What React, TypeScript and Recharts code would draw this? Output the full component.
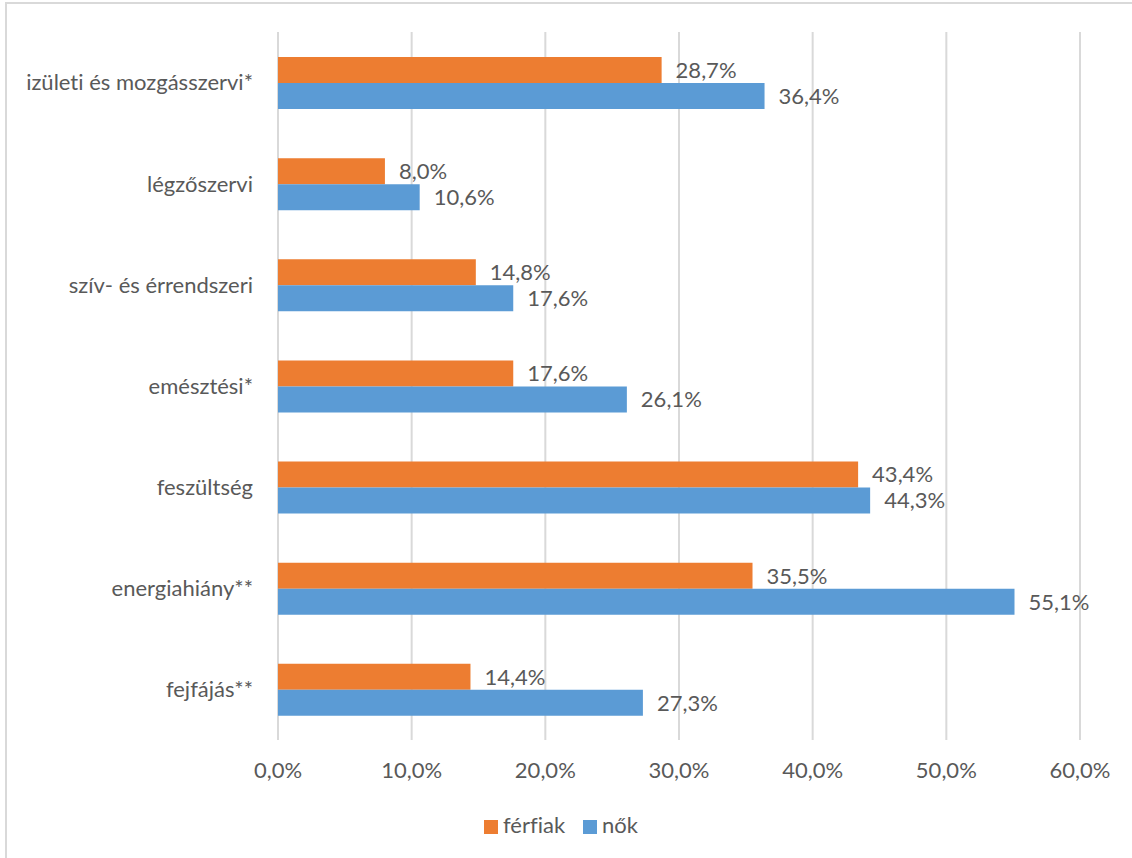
import React from 'react';
import { BarChart, Bar, XAxis, YAxis, CartesianGrid, Legend, LabelList } from 'recharts';

const categories = [
  'izületi és mozgásszervi*',
  'légzőszervi',
  'szív- és érrendszeri',
  'emésztési*',
  'feszültség',
  'energiahiány**',
  'fejfájás**',
];
const ferfiak = [28.7, 8.0, 14.8, 17.6, 43.4, 35.5, 14.4];
const nok = [36.4, 10.6, 17.6, 26.1, 44.3, 55.1, 27.3];
const xTicks = [0, 10, 20, 30, 40, 50, 60];

const data = categories.map((name, i) => ({ name, ferfiak: ferfiak[i], nok: nok[i] }));

const pct = (v: number) => v.toFixed(1).replace('.', ',') + '%';
const font = 'Lato, "Open Sans", sans-serif';
const textColor = '#595959';

export default function App() {
  return (
    <div style={{ position: 'absolute', left: 0, top: 0, width: 1132, height: 858, background: '#fff', overflow: 'hidden', fontFamily: font, fontVariantLigatures: 'none' }}>
      <div style={{ position: 'absolute', left: 5, top: 2, width: 1200, height: 900, border: '2px solid #d9d9d9', boxSizing: 'border-box' }} />
      <BarChart
        width={1132}
        height={858}
        data={data}
        layout="vertical"
        margin={{ top: 32, right: 52, left: 0, bottom: 78 }}
        barGap={0}
        style={{ position: 'absolute', left: 0, top: 0 }}
      >
        <CartesianGrid horizontal={false} stroke="#d9d9d9" strokeWidth={2} />
        <XAxis
          type="number"
          domain={[0, 60]}
          ticks={xTicks}
          tickFormatter={pct}
          axisLine={false}
          tickLine={false}
          tickSize={0}
          tickMargin={22}
          height={40}
          tick={{ fill: textColor, fontSize: 22, fontFamily: font }}
        />
        <YAxis
          type="category"
          dataKey="name"
          width={278}
          axisLine={false}
          tickLine={false}
          tickSize={0}
          tickMargin={25}
          tick={{ fill: textColor, fontSize: 22, fontFamily: font }}
        />
        <Legend
          verticalAlign="middle"
          align="center"
          iconType="square"
          iconSize={14}
          wrapperStyle={{ top: 811, left: 0, width: 1132, fontFamily: font, fontSize: 22 }}
          formatter={(value, _entry, index) => (
            <span style={{ color: textColor, fontVariantLigatures: 'none', marginLeft: 1, marginRight: index === 0 ? 8 : 0 }}>{value}</span>
          )}
        />
        <Bar dataKey="ferfiak" name="férfiak" fill="#ED7D31" barSize={26} isAnimationActive={false}>
          <LabelList dataKey="ferfiak" position="right" offset={14} formatter={(v: any) => pct(Number(v))} fill={textColor} fontSize={22} fontFamily={font} />
        </Bar>
        <Bar dataKey="nok" name="nők" fill="#5B9BD5" barSize={26} isAnimationActive={false}>
          <LabelList dataKey="nok" position="right" offset={14} formatter={(v: any) => pct(Number(v))} fill={textColor} fontSize={22} fontFamily={font} />
        </Bar>
      </BarChart>
    </div>
  );
}
